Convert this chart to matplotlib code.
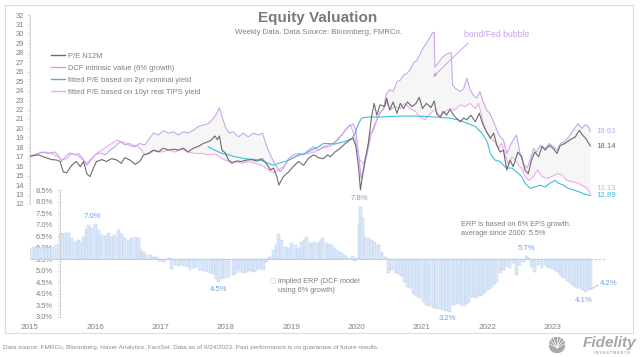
import numpy as np
import matplotlib
matplotlib.use('Agg')
import matplotlib.pyplot as plt
from matplotlib.patches import Rectangle, Polygon, Circle

plt.rcParams['font.family'] = ['Liberation Sans', 'DejaVu Sans']

# ---- data (decimal year, value) ----
pe = [(2015.00, 17.07), (2015.13, 17.2), (2015.23, 16.93), (2015.33, 16.7), (2015.41, 16.65),
      (2015.46, 16.5), (2015.51, 15.4), (2015.56, 15.3), (2015.64, 16.1), (2015.71, 16.5),
      (2015.77, 15.95), (2015.82, 16.5), (2015.87, 15.2), (2015.92, 14.9), (2015.97, 15.8),
      (2016.02, 16.5), (2016.10, 16.7), (2016.17, 16.5), (2016.25, 16.8), (2016.33, 16.65),
      (2016.40, 16.3), (2016.45, 16.9), (2016.53, 16.65), (2016.61, 16.2), (2016.68, 16.5),
      (2016.74, 17.2), (2016.81, 17.35), (2016.89, 17.7), (2016.97, 17.5), (2017.04, 17.9),
      (2017.12, 17.7), (2017.20, 17.8), (2017.27, 17.7), (2017.35, 17.9), (2017.42, 17.5),
      (2017.50, 17.9), (2017.58, 18.1), (2017.65, 18.4), (2017.73, 18.6), (2017.78, 18.8),
      (2017.83, 19.2), (2017.87, 18.8), (2017.90, 19.2), (2017.94, 17.7), (2017.99, 17.4),
      (2018.04, 16.65), (2018.09, 16.3), (2018.16, 16.55), (2018.24, 16.5), (2018.32, 16.65),
      (2018.39, 16.7), (2018.47, 16.55), (2018.55, 16.8), (2018.62, 16.3), (2018.68, 15.6),
      (2018.73, 15.8), (2018.78, 14.9), (2018.81, 14.0), (2018.88, 14.9), (2018.96, 15.4),
      (2019.03, 15.95), (2019.11, 16.5), (2019.19, 16.1), (2019.26, 16.8), (2019.34, 17.2),
      (2019.42, 16.9), (2019.49, 16.8), (2019.56, 17.2), (2019.60, 17.0), (2019.67, 17.5),
      (2019.75, 17.9), (2019.82, 18.35), (2019.90, 18.8), (2019.95, 18.95), (2019.99, 18.1),
      (2020.03, 15.95), (2020.06, 13.5), (2020.09, 14.9), (2020.13, 16.65), (2020.18, 18.4),
      (2020.23, 21.2), (2020.27, 22.65), (2020.31, 21.4), (2020.36, 22.5), (2020.43, 22.3),
      (2020.46, 23.2), (2020.51, 21.95), (2020.56, 22.8), (2020.62, 21.6), (2020.67, 22.65),
      (2020.72, 22.1), (2020.78, 22.8), (2020.85, 22.3), (2020.91, 22.65), (2020.96, 23.3),
      (2021.01, 22.1), (2021.07, 22.65), (2021.14, 22.2), (2021.19, 22.9), (2021.23, 21.5),
      (2021.28, 21.2), (2021.33, 21.8), (2021.38, 21.4), (2021.43, 22.0), (2021.51, 21.2),
      (2021.59, 20.7), (2021.64, 21.1), (2021.69, 20.9), (2021.75, 21.4), (2021.82, 20.7),
      (2021.88, 21.6), (2021.93, 20.5), (2021.98, 19.8), (2022.05, 18.95), (2022.10, 19.5),
      (2022.15, 18.2), (2022.20, 17.5), (2022.25, 17.7), (2022.30, 15.6), (2022.35, 16.65),
      (2022.40, 15.95), (2022.47, 17.5), (2022.53, 17.0), (2022.58, 15.6), (2022.63, 15.2),
      (2022.68, 16.65), (2022.73, 17.5), (2022.79, 17.0), (2022.84, 18.1), (2022.89, 17.7),
      (2022.95, 18.2), (2023.01, 17.9), (2023.07, 17.35), (2023.12, 18.2), (2023.19, 18.4),
      (2023.27, 18.8), (2023.35, 19.1), (2023.41, 19.8), (2023.46, 19.3), (2023.51, 18.95),
      (2023.58, 18.14)]

dcf = [(2015.00, 17.0), (2015.08, 17.25), (2015.18, 17.5), (2015.28, 17.35), (2015.38, 17.5),
       (2015.43, 17.2), (2015.48, 16.5), (2015.54, 17.0), (2015.61, 17.4), (2015.69, 17.2),
       (2015.74, 17.35), (2015.82, 16.7), (2015.87, 16.1), (2015.92, 16.5), (2016.00, 17.2),
       (2016.07, 17.4), (2016.15, 17.2), (2016.23, 17.7), (2016.30, 18.05), (2016.38, 18.6),
       (2016.45, 18.25), (2016.53, 18.4), (2016.61, 18.05), (2016.68, 18.4), (2016.76, 18.25),
       (2016.81, 18.75), (2016.89, 19.5), (2016.97, 19.3), (2017.04, 19.75), (2017.12, 19.5),
       (2017.20, 19.65), (2017.27, 19.3), (2017.35, 19.65), (2017.42, 19.5), (2017.50, 19.8),
       (2017.58, 20.2), (2017.65, 20.35), (2017.73, 20.5), (2017.81, 21.05), (2017.86, 21.6),
       (2017.90, 22.2), (2017.95, 21.05), (2018.00, 20.0), (2018.05, 19.5), (2018.11, 19.65),
       (2018.19, 19.1), (2018.27, 19.5), (2018.34, 19.1), (2018.42, 19.5), (2018.50, 19.3),
       (2018.56, 19.5), (2018.61, 18.4), (2018.68, 17.2), (2018.73, 16.5), (2018.78, 15.95),
       (2018.83, 15.4), (2018.88, 15.8), (2018.96, 16.8), (2019.03, 17.2), (2019.11, 17.35),
       (2019.19, 17.2), (2019.26, 17.7), (2019.34, 18.05), (2019.42, 17.7), (2019.49, 18.05),
       (2019.57, 18.25), (2019.64, 18.4), (2019.72, 18.95), (2019.80, 19.5), (2019.88, 20.2),
       (2019.95, 20.5), (2019.99, 19.8), (2020.03, 17.35), (2020.07, 14.7), (2020.11, 15.6),
       (2020.16, 17.35), (2020.21, 19.5), (2020.26, 19.8), (2020.31, 20.9), (2020.36, 21.6),
       (2020.41, 22.1), (2020.46, 23.7), (2020.51, 24.1), (2020.56, 23.9), (2020.62, 24.95),
       (2020.67, 25.1), (2020.72, 25.65), (2020.77, 25.8), (2020.82, 26.2), (2020.87, 26.9),
       (2020.92, 27.2), (2020.97, 27.8), (2021.02, 28.5), (2021.07, 29.0), (2021.13, 29.7),
       (2021.16, 30.1), (2021.19, 30.2), (2021.20, 26.5), (2021.25, 26.9), (2021.30, 27.4),
       (2021.36, 27.8), (2021.41, 27.95), (2021.45, 28.0), (2021.47, 24.6), (2021.52, 24.2),
       (2021.59, 23.9), (2021.64, 24.2), (2021.69, 25.3), (2021.74, 24.1), (2021.79, 23.5),
       (2021.84, 23.2), (2021.89, 23.9), (2021.94, 22.8), (2021.99, 21.95), (2022.04, 21.6),
       (2022.10, 20.7), (2022.15, 19.8), (2022.20, 19.1), (2022.25, 18.8), (2022.30, 17.35),
       (2022.35, 18.1), (2022.40, 18.8), (2022.45, 19.3), (2022.50, 17.5), (2022.55, 16.3),
       (2022.61, 15.8), (2022.66, 16.65), (2022.71, 17.9), (2022.76, 17.5), (2022.81, 18.2),
       (2022.89, 17.9), (2022.95, 18.4), (2023.01, 18.1), (2023.07, 17.7), (2023.12, 18.4),
       (2023.19, 18.6), (2023.27, 19.3), (2023.34, 20.0), (2023.39, 20.5), (2023.45, 20.0),
       (2023.50, 20.4), (2023.55, 20.2), (2023.58, 19.63)]

nominal = [(2017.73, 18.05), (2017.83, 17.7), (2017.94, 17.35), (2018.04, 17.2), (2018.14, 17.0),
           (2018.29, 16.8), (2018.45, 16.7), (2018.55, 16.6), (2018.65, 16.3), (2018.73, 16.1),
           (2018.80, 16.3), (2018.91, 16.5), (2019.01, 16.8), (2019.11, 17.2), (2019.21, 17.35),
           (2019.31, 17.7), (2019.42, 18.05), (2019.49, 18.4), (2019.57, 18.4), (2019.67, 18.35),
           (2019.82, 18.6), (2019.93, 18.95), (2019.98, 19.5), (2020.03, 20.5), (2020.08, 21.1),
           (2020.18, 21.2), (2020.33, 21.2), (2020.64, 21.3), (2020.95, 21.3), (2021.20, 21.2),
           (2021.41, 21.1), (2021.56, 20.9), (2021.71, 20.5), (2021.82, 20.2), (2021.92, 19.5),
           (2022.00, 18.6), (2022.05, 17.35), (2022.12, 16.65), (2022.20, 16.5), (2022.27, 15.95),
           (2022.33, 15.8), (2022.38, 15.8), (2022.45, 15.4), (2022.53, 14.9), (2022.58, 14.2),
           (2022.66, 13.65), (2022.73, 13.8), (2022.81, 14.0), (2022.89, 13.8), (2022.96, 14.2),
           (2023.04, 14.5), (2023.09, 14.2), (2023.17, 14.0), (2023.24, 13.65), (2023.32, 13.5),
           (2023.40, 13.3), (2023.47, 13.1), (2023.58, 12.89)]

tips = [(2015.00, 17.0), (2015.13, 17.35), (2015.23, 17.5), (2015.33, 17.35), (2015.43, 17.0),
        (2015.48, 16.65), (2015.56, 16.8), (2015.64, 17.35), (2015.71, 17.2), (2015.79, 16.8),
        (2015.87, 16.3), (2015.94, 16.8), (2016.02, 17.35), (2016.10, 17.7), (2016.17, 18.05),
        (2016.25, 18.4), (2016.33, 18.75), (2016.40, 18.6), (2016.48, 18.4), (2016.56, 18.05),
        (2016.63, 18.25), (2016.71, 17.7), (2016.76, 17.2), (2016.84, 17.35), (2016.91, 17.7),
        (2017.02, 17.5), (2017.12, 17.7), (2017.22, 17.5), (2017.32, 17.8), (2017.42, 17.5),
        (2017.53, 17.35), (2017.63, 17.35), (2017.73, 17.2), (2017.83, 17.3), (2017.94, 16.8),
        (2018.04, 16.5), (2018.14, 16.5), (2018.24, 16.3), (2018.34, 16.5), (2018.45, 16.3),
        (2018.55, 16.1), (2018.65, 15.6), (2018.73, 15.3), (2018.80, 15.6), (2018.88, 15.95),
        (2018.96, 16.65), (2019.06, 17.0), (2019.16, 17.2), (2019.26, 17.35), (2019.36, 17.5),
        (2019.47, 17.9), (2019.57, 18.05), (2019.64, 18.25), (2019.72, 18.8), (2019.82, 19.8),
        (2019.90, 20.4), (2019.97, 19.3), (2020.00, 18.07), (2020.05, 16.65), (2020.11, 16.3),
        (2020.16, 17.2), (2020.21, 18.8), (2020.26, 20.2), (2020.31, 20.9), (2020.36, 21.8),
        (2020.41, 21.95), (2020.46, 22.8), (2020.51, 21.95), (2020.59, 22.3), (2020.67, 22.1),
        (2020.74, 22.65), (2020.82, 22.1), (2020.90, 21.8), (2020.97, 21.2), (2021.05, 20.9),
        (2021.13, 21.6), (2021.20, 21.95), (2021.28, 21.2), (2021.36, 21.8), (2021.43, 22.1),
        (2021.51, 21.95), (2021.59, 22.5), (2021.66, 22.3), (2021.74, 22.65), (2021.82, 22.1),
        (2021.87, 22.65), (2021.92, 21.2), (2021.97, 19.8), (2022.02, 19.3), (2022.07, 18.8),
        (2022.12, 18.6), (2022.17, 17.9), (2022.22, 18.4), (2022.27, 17.35), (2022.33, 16.1),
        (2022.38, 17.0), (2022.43, 16.65), (2022.48, 16.1), (2022.53, 15.8), (2022.58, 14.9),
        (2022.64, 14.5), (2022.71, 14.9), (2022.77, 15.6), (2022.84, 14.9), (2022.91, 14.7),
        (2022.99, 14.9), (2023.07, 15.2), (2023.14, 15.1), (2023.22, 14.5), (2023.30, 14.35),
        (2023.37, 14.25), (2023.45, 14.0), (2023.53, 13.65), (2023.58, 13.13)]

erp = [(2015.00, 6.0), (2015.05, 6.02), (2015.10, 5.98), (2015.15, 6.0), (2015.20, 6.03),
       (2015.25, 5.98), (2015.30, 6.0), (2015.35, 6.02), (2015.41, 6.1), (2015.46, 6.65),
       (2015.50, 6.6), (2015.54, 6.62), (2015.59, 6.65), (2015.64, 6.4), (2015.69, 6.25),
       (2015.74, 6.33), (2015.77, 6.18), (2015.82, 6.47), (2015.86, 6.8), (2015.89, 6.98),
       (2015.94, 6.84), (2016.00, 7.02), (2016.05, 6.76), (2016.10, 6.55), (2016.15, 6.5),
       (2016.20, 6.62), (2016.25, 6.47), (2016.30, 6.55), (2016.35, 6.76), (2016.40, 6.59),
       (2016.45, 6.4), (2016.51, 6.33), (2016.56, 6.4), (2016.61, 6.45), (2016.66, 6.43),
       (2016.70, 5.9), (2016.74, 5.82), (2016.79, 5.68), (2016.84, 5.68), (2016.89, 5.6),
       (2016.94, 5.58), (2016.99, 5.43), (2017.04, 5.39), (2017.09, 5.46), (2017.14, 5.53),
       (2017.17, 5.06), (2017.22, 5.24), (2017.27, 5.22), (2017.32, 5.24), (2017.37, 5.2),
       (2017.42, 5.17), (2017.45, 5.03), (2017.50, 5.1), (2017.53, 5.14), (2017.60, 5.03),
       (2017.66, 4.98), (2017.71, 4.95), (2017.76, 4.9), (2017.81, 4.85), (2017.86, 4.65),
       (2017.89, 4.52), (2017.94, 4.62), (2017.98, 4.68), (2018.04, 4.71), (2018.11, 4.81),
       (2018.15, 4.9), (2018.19, 5.03), (2018.23, 4.95), (2018.27, 4.88), (2018.31, 4.96),
       (2018.34, 5.03), (2018.38, 5.0), (2018.42, 4.95), (2018.46, 5.0), (2018.50, 5.06),
       (2018.54, 5.05), (2018.57, 5.03), (2018.62, 5.39), (2018.67, 5.6), (2018.73, 5.9),
       (2018.78, 6.11), (2018.81, 6.59), (2018.85, 6.33), (2018.91, 6.04), (2018.96, 5.97),
       (2019.01, 6.18), (2019.06, 6.11), (2019.11, 5.97), (2019.16, 6.26), (2019.20, 6.35),
       (2019.24, 6.47), (2019.29, 6.18), (2019.33, 6.2), (2019.36, 6.26), (2019.41, 6.18),
       (2019.45, 6.3), (2019.48, 6.4), (2019.54, 6.18), (2019.58, 6.15), (2019.62, 6.11),
       (2019.66, 6.0), (2019.70, 5.9), (2019.74, 5.82), (2019.77, 5.75), (2019.81, 5.68),
       (2019.85, 5.6), (2019.90, 5.53), (2019.94, 5.63), (2019.97, 5.43), (2020.00, 5.53),
       (2020.04, 6.98), (2020.06, 7.78), (2020.09, 7.27), (2020.13, 6.47), (2020.18, 6.4),
       (2020.23, 6.33), (2020.28, 6.26), (2020.33, 6.11), (2020.39, 5.82), (2020.44, 5.6),
       (2020.49, 4.88), (2020.54, 5.03), (2020.59, 4.88), (2020.64, 4.85), (2020.69, 4.75),
       (2020.74, 4.52), (2020.78, 4.3), (2020.82, 4.25), (2020.87, 3.98), (2020.92, 3.9),
       (2020.97, 3.8), (2021.02, 3.62), (2021.07, 3.51), (2021.12, 3.45), (2021.18, 3.36),
       (2021.23, 3.34), (2021.28, 3.32), (2021.33, 3.3), (2021.38, 3.26), (2021.43, 3.22),
       (2021.48, 3.51), (2021.52, 3.55), (2021.56, 3.58), (2021.60, 3.5), (2021.64, 3.46),
       (2021.68, 3.55), (2021.71, 3.65), (2021.76, 3.87), (2021.80, 3.84), (2021.84, 3.8),
       (2021.88, 3.88), (2021.92, 3.94), (2021.96, 4.05), (2021.99, 4.16), (2022.03, 4.22),
       (2022.07, 4.3), (2022.11, 4.4), (2022.15, 4.52), (2022.20, 4.88), (2022.25, 5.03),
       (2022.30, 5.17), (2022.35, 5.1), (2022.40, 5.32), (2022.45, 4.81), (2022.50, 5.24),
       (2022.55, 5.39), (2022.60, 5.63), (2022.63, 5.53), (2022.68, 5.17), (2022.73, 4.95),
       (2022.78, 5.24), (2022.84, 5.1), (2022.89, 5.24), (2022.93, 5.15), (2022.96, 5.1),
       (2023.00, 5.05), (2023.04, 5.03), (2023.08, 4.92), (2023.12, 4.81), (2023.16, 4.72),
       (2023.19, 4.66), (2023.23, 4.55), (2023.27, 4.45), (2023.31, 4.38), (2023.35, 4.3),
       (2023.39, 4.26), (2023.42, 4.23), (2023.46, 4.15), (2023.50, 4.09), (2023.55, 4.16),
       (2023.59, 4.2)]

erp_avg = 5.5
years = list(range(2015, 2024))
pe_ticks = list(range(12, 33))
erp_ticks = [3.0, 3.5, 4.0, 4.5, 5.0, 5.5, 6.0, 6.5, 7.0, 7.5, 8.0, 8.5]

legend_labels = ['P/E N12M', 'DCF intrinsic value (6% growth)',
                 'fitted P/E based on 2yr nominal yield',
                 'fitted P/E based on 10yr real TIPS yield']
# last-value labels and their y positions
end_labels = [('19.63', 19.65), ('18.14', 18.06), ('13.13', 13.67), ('12.89', 12.93)]
erp_callouts = [(2015.95, 7.33, '7.0%'), (2017.89, 4.16, '4.5%'), (2020.05, 8.11, '7.8%'),
                (2021.40, 2.94, '3.2%'), (2022.60, 5.98, '5.7%'), (2023.48, 3.72, '4.1%')]

C_PE = '#6b6b6b'
C_DCF = '#c7a2ee'
C_NOM = '#3dbde0'
C_TIPS = '#f0a4ee'
C_BAR = '#dce8f8'
C_BAR_EDGE = '#b3cdf0'
C_LAB = '#6e9fe2'
C_TXT = '#7f7f7f'
C_AX = '#cfcfcf'

W, H = 640, 357
fig = plt.figure(figsize=(W / 100, H / 100), dpi=100)

x0, x1 = 2015.0, 2024.2
ax_left, ax_w = 30 / W, 600.8 / W

# ---------- bottom panel: implied ERP ----------
bx = fig.add_axes([ax_left, 1 - 316.7 / H, ax_w, 126.7 / H])
bx.patch.set_alpha(0)
ex, ev = np.array(erp).T
bx.bar(ex, ev - erp_avg, bottom=erp_avg, width=0.045, color=C_BAR,
       edgecolor=C_BAR_EDGE, linewidth=0.3, align='center', zorder=2)
bx.hlines(erp_avg, ex[0] - 0.02, ex[-1] + 0.02, color=C_BAR_EDGE, lw=0.6, zorder=3)
bx.hlines(erp_avg, ex[-1] + 0.04, 2023.8, color='#bdbdbd', lw=0.6, ls=(0, (3, 2)), zorder=3)
bx.set_xlim(x0, x1)
bx.set_ylim(3.0, 8.5)
bx.set_yticks(erp_ticks)
bx.set_yticklabels([f'{t:.1f}%' for t in erp_ticks])
bx.set_yticks(np.arange(3.0, 8.51, 0.1), minor=True)
bx.set_xticks(years)
bx.set_xticklabels([str(y) for y in years])
for s in ['top', 'right', 'bottom']:
    bx.spines[s].set_visible(False)
bx.spines['left'].set_position(('data', 2015.46))
bx.spines['left'].set_color(C_AX)
bx.spines['left'].set_linewidth(0.6)
bx.tick_params(axis='y', which='major', length=2, width=0.5, color=C_AX,
               labelsize=5.4, labelcolor=C_TXT, pad=3)
bx.tick_params(axis='y', which='minor', length=1.2, width=0.4, color=C_AX)
bx.tick_params(axis='x', length=0, labelsize=5.8, labelcolor=C_TXT, pad=5)

for x, y, t in erp_callouts:
    bx.text(x, y, t, color=C_LAB, fontsize=5.6, ha='center', va='center', clip_on=False)
bx.plot([ex[-1], 2023.70], [ev[-1], 4.38], color='#b0b0b0', lw=0.5)
bx.text(2023.72, 4.42, f'{ev[-1]:.1f}%', color=C_LAB, fontsize=5.6, ha='left', va='center')
bx.text(2021.6, 6.8, 'ERP is based on 6% EPS growth.\naverage since 2000: 5.5%',
        color=C_TXT, fontsize=5.3, ha='left', va='center', linespacing=1.35)
bx.text(2018.66, 4.55, '□', color=C_BAR_EDGE, fontsize=5, ha='left', va='center',
        family='DejaVu Sans')
bx.text(2018.80, 4.33, 'implied ERP (DCF model\nusing 6% growth)', color=C_TXT,
        fontsize=5.3, ha='left', va='center', linespacing=1.35)

# ---------- top panel: P/E ----------
ax = fig.add_axes([ax_left, 1 - 204 / H, ax_w, 189 / H])
ax.patch.set_alpha(0)
px, pv = np.array(pe).T
dx, dv = np.array(dcf).T
nx, nv = np.array(nominal).T
tx, tv = np.array(tips).T

# shaded gap between intrinsic value and the rate-based fits
shade = np.vstack([np.column_stack([dx, dv]), np.column_stack([tx, tv])[::-1]])
ax.add_patch(Polygon(shade, closed=True, facecolor='#f6f6f6', edgecolor='none', zorder=1))

ax.plot(tx, tv, color=C_TIPS, lw=0.75, zorder=2)
ax.plot(dx, dv, color=C_DCF, lw=0.75, zorder=3)
ax.plot(nx, nv, color=C_NOM, lw=0.8, zorder=4)
ax.plot(px, pv, color=C_PE, lw=0.8, zorder=5)

ax.set_xlim(x0, x1)
ax.set_ylim(12, 32)
ax.set_yticks(pe_ticks)
ax.set_yticks(np.arange(12, 32.01, 0.2), minor=True)
ax.set_xticks([])
for s in ['top', 'right', 'bottom']:
    ax.spines[s].set_visible(False)
ax.spines['left'].set_color(C_AX)
ax.spines['left'].set_linewidth(0.6)
ax.tick_params(axis='y', which='major', length=2, width=0.5, color=C_AX,
               labelsize=5.4, labelcolor=C_TXT, pad=2.5)
ax.tick_params(axis='y', which='minor', length=1.2, width=0.4, color=C_AX)

handles = [plt.Line2D([], [], color=c, lw=1) for c in (C_PE, C_DCF, C_NOM, C_TIPS)]
leg = ax.legend(handles, legend_labels, loc='upper left', bbox_to_anchor=(0.035, 0.80),
                frameon=False, fontsize=5.4, handlelength=1.9, handletextpad=0.3,
                labelspacing=0.62, borderaxespad=0, borderpad=0)
for t in leg.get_texts():
    t.set_color(C_TXT)

for (txt, y), c in zip(end_labels, (C_DCF, C_PE, C_TIPS, C_NOM)):
    ax.text(2023.68, y, txt, color=c, fontsize=5.6, ha='left', va='center')

ax.text(2022.15, 29.9, 'bond/Fed bubble', color=C_DCF, fontsize=6.2, ha='center', va='center')
ax.annotate('', xy=(2021.17, 25.45), xytext=(2021.71, 29.05),
            arrowprops=dict(arrowstyle='-|>', color=C_DCF, lw=0.7, mutation_scale=5,
                            shrinkA=0, shrinkB=0))

# ---------- titles, frame, footer ----------
fig.text(318 / W, 1 - 18 / H, 'Equity Valuation', ha='center', va='center',
         fontsize=11, fontweight='bold', color='#7a7a7a')
fig.text(318.5 / W, 1 - 32 / H, 'Weekly Data. Data Source: Bloomberg, FMRCo.',
         ha='center', va='center', fontsize=5.6, color=C_TXT)
fig.add_artist(Rectangle((5 / W, 1 - 333 / H), 628 / W, 328 / H, transform=fig.transFigure,
                         fill=False, edgecolor='#dcdcdc', lw=0.8))
fig.text(3 / W, 1 - 348 / H, 'Data source: FMRCo, Bloomberg, Haver Analytics, FactSet. '
         'Data as of 9/24/2023. Past performance is no guarantee of future results.',
         ha='left', va='center', fontsize=4.6, color='#8c8c8c')

lx = fig.add_axes([549 / W, 1 - 353 / H, 16 / W, 16 / H])
lx.set_xlim(-1, 1)
lx.set_ylim(-1, 1)
lx.axis('off')
lx.add_patch(Circle((0, 0), 0.95, color='#a8a8a8'))
for a in np.linspace(0.15, np.pi - 0.15, 7):
    lx.plot([0, 0.95 * np.cos(a)], [-0.35, 0.95 * np.sin(a)], color='white', lw=0.5)
fig.text(636 / W, 1 - 343 / H, 'Fidelity', ha='right', va='center', fontsize=11,
         fontweight='bold', style='italic', color='#a5a5a5')
fig.text(630 / W, 1 - 353 / H, 'I N V E S T M E N T S', ha='right', va='center',
         fontsize=2.6, fontweight='bold', color='#a5a5a5')

fig.savefig('out.png', dpi=100)
